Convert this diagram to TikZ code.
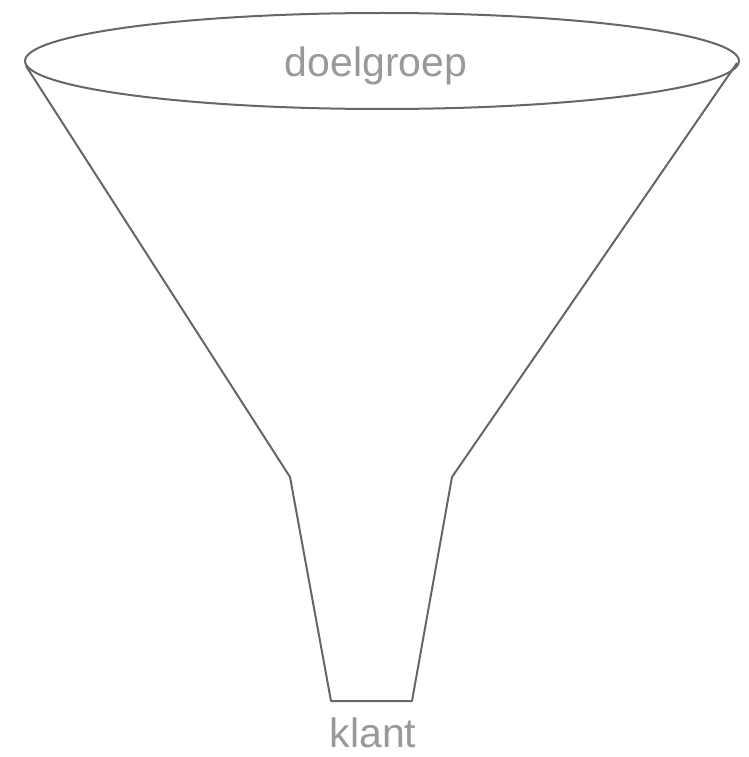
\documentclass[tikz,border=0pt]{standalone}
\usepackage{fontspec}
\setmainfont{Liberation Sans}
\definecolor{edgegray}{HTML}{666666}
\definecolor{labelgray}{HTML}{999999}
\tikzset{
  funnel/.style={draw=edgegray, line width=2pt, line join=round},
  funnellabel/.style={text=labelgray, font=\fontsize{41}{41}\selectfont, anchor=base, inner sep=0pt}
}
\begin{document}
\begin{tikzpicture}[x=1pt,y=-1pt]
  \useasboundingbox (0,0) rectangle (748,757);
  % rim of the funnel
  \draw[funnel] (382,61) ellipse (357 and 48);
  % cone and neck
  \draw[funnel] (26,66) -- (290,477) -- (331,701) -- (412,701) -- (452,477) -- (737,63);
  \node[funnellabel] (top) at (376,77) {doelgroep};
  \node[funnellabel] (bottom) at (373,747) {klant};
\end{tikzpicture}
\end{document}
